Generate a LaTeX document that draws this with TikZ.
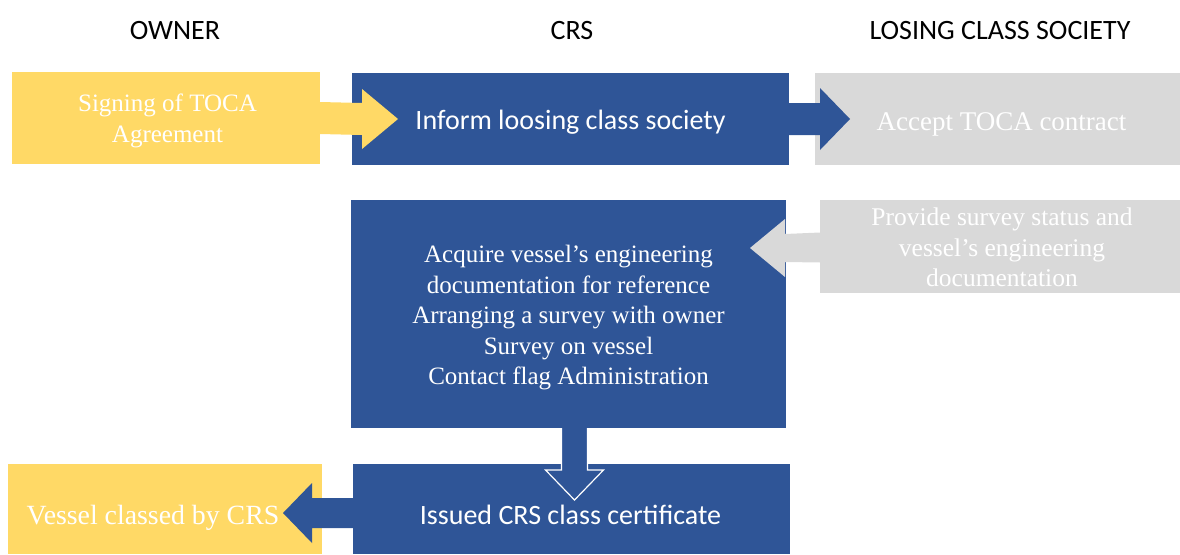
\documentclass[tikz,border=0pt]{standalone}
\usepackage{fontspec}
\setmainfont{Liberation Serif}
\newfontfamily\calib{Carlito}
\newfontfamily\tnr{Liberation Serif}
\usetikzlibrary{calc}
\definecolor{ownyel}{HTML}{FFD966}
\definecolor{crsblue}{HTML}{2F5597}
\definecolor{losgray}{HTML}{D9D9D9}
\tikzset{
  boxbase/.style={inner sep=0pt, outer sep=0pt},
  ownbox/.style={boxbase, fill=ownyel},
  crsbox/.style={boxbase, fill=crsblue},
  losbox/.style={boxbase, fill=losgray},
  boxtext/.style={inner sep=0pt, align=center, text=white, font=\tnr\fontsize{25}{30.5}\selectfont},
  sansbig/.style={boxtext, font=\calib\fontsize{28}{32}\selectfont},
  header/.style={font=\calib\fontsize{28}{32}\selectfont, text=black, inner sep=0pt},
}
\begin{document}
\begin{tikzpicture}[x=1pt,y=-1pt]
\useasboundingbox (0,0) rectangle (1180,554);
% headers
\node[header] (hown) at (175,31) {OWNER};
\node[header] (hcrs) at (572,31) {CRS};
\node[header] (hlos) at (1000,31) {LOSING CLASS SOCIETY};
% boxes
\node[ownbox, minimum width=308pt, minimum height=92pt] (own1) at (166,118) {};
\node[crsbox, minimum width=437pt, minimum height=92pt] (crs1) at (570.5,119) {};
\node[losbox, minimum width=365pt, minimum height=92pt] (los1) at (997.5,119) {};
\node[crsbox, minimum width=435pt, minimum height=228pt] (crs2) at (568.5,314) {};
\node[losbox, minimum width=360pt, minimum height=93pt] (los2) at (1000,246.5) {};
\node[crsbox, minimum width=437pt, minimum height=90pt] (crs3) at (571.5,509) {};
\node[ownbox, minimum width=314pt, minimum height=90pt] (own2) at (165,509) {};
% box texts
\node[boxtext] (town1) at ($(own1.center)+(1.5,3)$) {Signing of TOCA\\Agreement};
\node[sansbig] (tcrs1) at ($(crs1.center)+(0,3)$) {Inform loosing class society};
\node[boxtext, font=\tnr\fontsize{27}{31}\selectfont] (tlos1) at ($(los1.center)+(4,5)$) {Accept TOCA contract};
\node[boxtext] (tcrs2) at ($(crs2.center)+(0,4)$) {Acquire vessel’s engineering\\documentation for reference\\Arranging a survey with owner\\Survey on vessel\\Contact flag Administration};
\node[boxtext, font=\tnr\fontsize{25.5}{30.5}\selectfont] (tlos2) at ($(los2.center)+(2,1)$) {Provide survey status and\\vessel’s engineering\\documentation};
\node[sansbig] (tcrs3) at ($(crs3.center)+(-1,6)$) {Issued CRS class certificate};
\node[boxtext, font=\tnr\fontsize{27.8}{31}\selectfont] (town2) at ($(own2.center)+(-12,9)$) {Vessel classed by CRS};
% arrows
% owner -> crs
\fill[ownyel] ($(own1.east)+(0,-16)$) -- ($(crs1.west)+(10,-16)$) -- ($(crs1.west)+(10,-30)$)
  -- ($(crs1.west)+(46,0)$) -- ($(crs1.west)+(10,30)$) -- ($(crs1.west)+(10,16)$) -- ($(own1.east)+(0,16)$) -- cycle;
% crs -> losing
\fill[crsblue] ($(crs1.east)+(0,-16)$) -- ($(los1.west)+(5,-16)$) -- ($(los1.west)+(5,-31)$)
  -- ($(los1.west)+(35,0)$) -- ($(los1.west)+(5,31)$) -- ($(los1.west)+(5,16)$) -- ($(crs1.east)+(0,16)$) -- cycle;
% losing -> crs2
\fill[losgray] ($(los2.west)+(0,-14)$) -- ($(crs2.east)+(-1,-80)$) -- ($(crs2.east)+(-1,-95)$)
  -- ($(crs2.east)+(-36,-66)$) -- ($(crs2.east)+(-1,-37)$) -- ($(crs2.east)+(-1,-52)$) -- ($(los2.west)+(0,16)$) -- cycle;
% crs2 -> crs3
\filldraw[crsblue, draw=white, line width=1.2pt] ($(crs2.south)+(-7,0)$) -- ($(crs3.north)+(-10,6)$) -- ($(crs3.north)+(-26,6)$)
  -- ($(crs3.north)+(3,36)$) -- ($(crs3.north)+(32,6)$) -- ($(crs3.north)+(16,6)$) -- ($(crs2.south)+(19,0)$);
% crs3 -> owner2
\fill[crsblue] ($(crs3.west)+(0,-11)$) -- ($(own2.east)+(-10,-11)$) -- ($(own2.east)+(-10,-26)$)
  -- ($(own2.east)+(-39,4)$) -- ($(own2.east)+(-10,34)$) -- ($(own2.east)+(-10,19)$) -- ($(crs3.west)+(0,19)$) -- cycle;
\end{tikzpicture}
\end{document}
